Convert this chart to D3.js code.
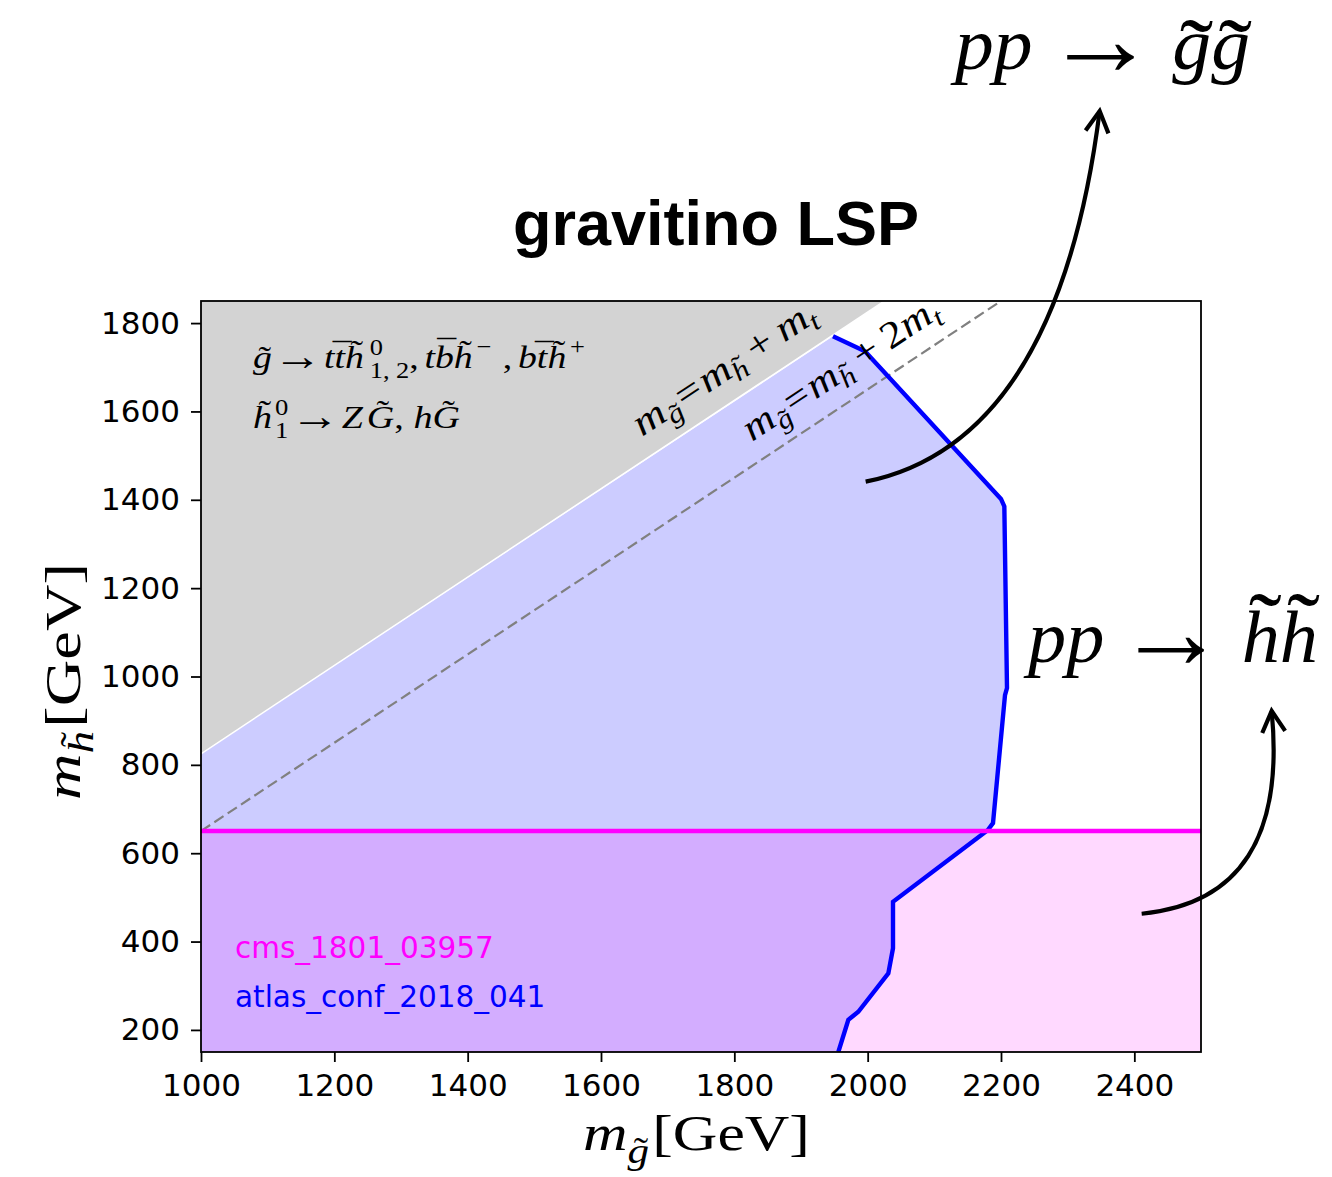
<!DOCTYPE html>
<html>
<head>
<meta charset="utf-8">
<script src="https://cdn.jsdelivr.net/npm/d3@7"></script>
<style>body{margin:0;background:#fff;}</style>
</head>
<body>
<svg id="chart" width="1332" height="1177"></svg>
<script>
// ---- data ----
const xTicks = [1000, 1200, 1400, 1600, 1800, 2000, 2200, 2400];
const yTicks = [200, 400, 600, 800, 1000, 1200, 1400, 1600, 1800];
const topMass = 175;            // m_t used for the kinematic lines
const cmsLimit = 650;           // cms_1801_03957 higgsino exclusion
// atlas_conf_2018_041 exclusion contour (m_gluino, m_higgsino)
const atlasMg = [1948, 1996, 2200, 2205, 2209, 2206, 2188, 2180, 2038, 2038, 2031, 1986, 1971, 1956];
const atlasMh = [1770, 1736, 1402, 1385, 974, 958, 668, 652, 490, 385, 328, 241, 223, 150];
const legendNames = ["cms_1801_03957", "atlas_conf_2018_041"];
const legendColors = ["#ff00ff", "#0000ff"];

const svg = d3.select("#chart");
const SERIF = "'Liberation Serif','DejaVu Serif',serif";
const SANS = "'DejaVu Sans',sans-serif";

const x = d3.scaleLinear().domain([1000, 2500]).range([201, 1201]);
const y = d3.scaleLinear().domain([150, 1850]).range([1052, 301]);
const [x0, x1] = x.range(), [y0, y1] = y.range();

svg.append("defs").append("clipPath").attr("id", "plotclip")
  .append("rect").attr("x", x0).attr("y", y1).attr("width", x1 - x0).attr("height", y0 - y1);

const plot = svg.append("g").attr("clip-path", "url(#plotclip)");
const line = d3.line().x(d => x(d[0])).y(d => y(d[1]));
const limit = atlasMg.map((m, i) => [m, atlasMh[i]]);
const [xmin, xmax] = x.domain(), [ymin, ymax] = y.domain();

// excluded region of the atlas search
plot.append("path")
  .attr("d", line(limit.concat([[xmin, ymin], [xmin, xmin - topMass]])) + "Z")
  .attr("fill", "#0000ff").attr("fill-opacity", 0.2);

// excluded region of the cms search
plot.append("rect")
  .attr("x", x0).attr("width", x1 - x0)
  .attr("y", y(cmsLimit)).attr("height", y(ymin) - y(cmsLimit))
  .attr("fill", "#ff00ff").attr("fill-opacity", 0.15);

// m_g = m_h + 2 m_t
plot.append("path")
  .attr("d", line([[xmin, xmin - 2 * topMass], [ymax + 2 * topMass, ymax]]))
  .attr("stroke", "#808080").attr("stroke-width", 2.2).attr("stroke-dasharray", "11,5").attr("fill", "none");

// kinematically forbidden region above m_g = m_h + m_t
plot.append("path")
  .attr("d", line([[xmin, xmin - topMass], [xmin, ymax], [ymax + topMass, ymax]]) + "Z")
  .attr("fill", "#d3d3d3");
plot.append("path")
  .attr("d", line([[xmin, xmin - topMass], [ymax + topMass, ymax]]))
  .attr("stroke", "#fff").attr("stroke-width", 1.5).attr("fill", "none");

// atlas contour
plot.append("path").attr("d", line(limit))
  .attr("stroke", "#0000ff").attr("stroke-width", 4.4).attr("fill", "none")
  .attr("stroke-linejoin", "miter");

// cms limit line
plot.append("path").attr("d", line([[xmin, cmsLimit], [xmax, cmsLimit]]))
  .attr("stroke", "#ff00ff").attr("stroke-width", 4.5).attr("fill", "none");

// axes
const fmt = d3.format("d");
const gx = svg.append("g").attr("transform", `translate(0,${y0})`)
  .call(d3.axisBottom(x).tickValues(xTicks).tickFormat(fmt).tickSize(10).tickPadding(12));
const gy = svg.append("g").attr("transform", `translate(${x0},0)`)
  .call(d3.axisLeft(y).tickValues(yTicks).tickFormat(fmt).tickSize(10).tickPadding(11));
[gx, gy].forEach(g => {
  g.select(".domain").remove();
  g.selectAll(".tick line").attr("stroke", "#000").attr("stroke-width", 1.8);
  g.selectAll(".tick text").attr("font-family", SANS).attr("font-size", 31).attr("fill", "#000");
});
svg.append("rect").attr("x", x0).attr("y", y1).attr("width", x1 - x0).attr("height", y0 - y1)
  .attr("fill", "none").attr("stroke", "#000").attr("stroke-width", 1.8);

// legend labels
legendNames.forEach((n, i) => {
  svg.append("text").attr("x", 235).attr("y", 958 + i * 49)
    .attr("font-family", SANS).attr("font-size", 29.5).attr("fill", legendColors[i]).text(n);
});

// ---- simple math typesetting: tokens laid out left to right ----
function mathText(parent, tokens, opt) {
  const outer = parent.append("g")
    .attr("transform", `translate(${opt.x},${opt.y}) rotate(${opt.rotate || 0})`);
  const inner = outer.append("g");
  let cx = 0;
  for (const tk of tokens) {
    const fs = opt.size * (tk.s || 1);
    cx += (tk.pre || 0) * opt.size;
    const dy = (tk.dy || 0) * opt.size;
    const t = inner.append("text").attr("x", cx).attr("y", dy)
      .attr("font-family", SERIF).attr("font-size", fs)
      .attr("font-style", tk.up ? "normal" : "italic").attr("fill", "#000").text(tk.t);
    const w = t.node().getComputedTextLength();
    if (tk.acc) {
      inner.append("text")
        .attr("x", cx + w / 2 + (tk.ax || 0.06) * fs)
        .attr("y", dy - (tk.ay || 0) * fs)
        .attr("text-anchor", "middle").attr("font-family", SERIF)
        .attr("font-size", fs * (tk.as || 1)).attr("fill", "#000")
        .text(tk.acc === "~" ? "\u02DC" : "\u00AF");
    }
    if (!tk.noadv) cx += w;
    cx += (tk.post || 0) * opt.size;
  }
  const sx = opt.width ? opt.width / cx : 1;
  const off = opt.anchor === "middle" ? -cx / 2 : 0;
  inner.attr("transform", `scale(${sx},1) translate(${off},0)`);
}

const ARROW = "\u2192";
// decay chains
mathText(svg, [
  {t: "g", acc: "~"}, {t: ARROW, up: true, s: 1.3, dy: 0.06, pre: 0.03, post: 0.05},
  {t: "t"}, {t: "t", acc: "-", ay: 0.08},
  {t: "h", acc: "~", ay: 0.2},
  {t: "0", up: true, s: 0.7, dy: -0.42, pre: 0.15, noadv: true},
  {t: "1, 2", up: true, s: 0.7, dy: 0.3},
  {t: ",", up: true, post: 0.15},
  {t: "t"}, {t: "b", acc: "-", ay: 0.2},
  {t: "h", acc: "~", ay: 0.2},
  {t: "\u2212", up: true, s: 0.7, dy: -0.45, pre: 0.1},
  {t: ",", up: true, pre: 0.3, post: 0.15},
  {t: "b"}, {t: "t", acc: "-", ay: 0.08},
  {t: "h", acc: "~", ay: 0.2},
  {t: "+", up: true, s: 0.7, dy: -0.45, pre: 0.1}
], {x: 253, y: 368, size: 32, width: 332});

mathText(svg, [
  {t: "h", acc: "~", ay: 0.2},
  {t: "0", up: true, s: 0.7, dy: -0.42, pre: 0.08, noadv: true},
  {t: "1", up: true, s: 0.7, dy: 0.3},
  {t: ARROW, up: true, s: 1.3, dy: 0.06, pre: 0.05, post: 0.05},
  {t: "Z"}, {t: "G", acc: "~", ay: 0.2, pre: 0.1},
  {t: ",", up: true}, {t: "h", pre: 0.25}, {t: "G", acc: "~", ay: 0.2}
], {x: 253, y: 428, size: 32, width: 207});

// kinematic line labels
const angle = Math.atan2(y(1850) - y(825), x(2025) - x(1000)) * 180 / Math.PI;
const eq = (two) => [
  {t: "m"}, {t: "g", s: 0.7, dy: 0.2, acc: "~"},
  {t: "=", up: true, pre: 0.05, post: 0.05},
  {t: "m"}, {t: "h", s: 0.7, dy: 0.2, acc: "~", ay: 0.2},
  {t: "+", up: true, pre: 0.2, post: 0.2}
].concat(two ? [{t: "2", up: true}] : []).concat([{t: "m"}, {t: "t", s: 0.7, dy: 0.2}]);
mathText(svg, eq(false), {x: 642, y: 437, size: 38, rotate: angle, width: 212});
mathText(svg, eq(true), {x: 752, y: 442, size: 38, rotate: angle, width: 228});

// axis titles
mathText(svg, [
  {t: "m"}, {t: "g", s: 0.7, dy: 0.25, acc: "~"}, {t: "[GeV]", up: true, pre: 0.05}
], {x: 583, y: 1150, size: 50, width: 227});
mathText(svg, [
  {t: "m"}, {t: "h", s: 0.7, dy: 0.25, acc: "~", ay: 0.2}, {t: "[GeV]", up: true, pre: 0.05}
], {x: 80, y: 800, size: 50, rotate: -90, width: 237});

// title
svg.append("text").attr("x", 716).attr("y", 245).attr("text-anchor", "middle")
  .attr("font-family", "'Liberation Sans',Arial,sans-serif").attr("font-weight", "bold")
  .attr("font-size", 63).text("gravitino LSP");

// production annotations
mathText(svg, [
  {t: "pp"}, {t: ARROW, up: true, s: 1.45, dy: 0.08, pre: 0.15, post: 0.2},
  {t: "g", acc: "~", as: 1.3, ay: -0.2}, {t: "g", acc: "~", as: 1.3, ay: -0.2}
], {x: 955, y: 69, size: 74, width: 295});
mathText(svg, [
  {t: "pp"}, {t: ARROW, up: true, s: 1.45, dy: 0.08, pre: 0.15, post: 0.2},
  {t: "h", acc: "~", as: 1.3, ay: 0.05}, {t: "h", acc: "~", as: 1.3, ay: 0.05}
], {x: 1028, y: 662, size: 74, width: 290});

// curved arrows, anchored in data coordinates
function curvedArrow(tail, tip, bend) {
  const p0 = [x(tail[0]), y(tail[1])], p2 = [x(tip[0]), y(tip[1])];
  const c = [p0[0] + bend[0] * (p2[0] - p0[0]), p0[1] + bend[1] * (p2[1] - p0[1])];
  svg.append("path")
    .attr("d", `M${p0[0]},${p0[1]} Q${c[0]},${c[1]} ${p2[0]},${p2[1]}`)
    .attr("fill", "none").attr("stroke", "#000").attr("stroke-width", 4.2);
  const a = Math.atan2(p2[1] - c[1], p2[0] - c[0]);
  const L = 24, h = 0.5;
  const pts = [-h, h].map(s => [p2[0] - L * Math.cos(a + s), p2[1] - L * Math.sin(a + s)]);
  svg.append("path")
    .attr("d", `M${pts[0][0]},${pts[0][1]} L${p2[0]},${p2[1]} L${pts[1][0]},${pts[1][1]}`)
    .attr("fill", "none").attr("stroke", "#000").attr("stroke-width", 4.2)
    .attr("stroke-linejoin", "miter");
}
curvedArrow([1997, 1441], [2348, 2280], [0.82, 0.105]);
curvedArrow([2411, 463], [2606, 922], [1.14, 0.07]);
</script>
</body>
</html>
